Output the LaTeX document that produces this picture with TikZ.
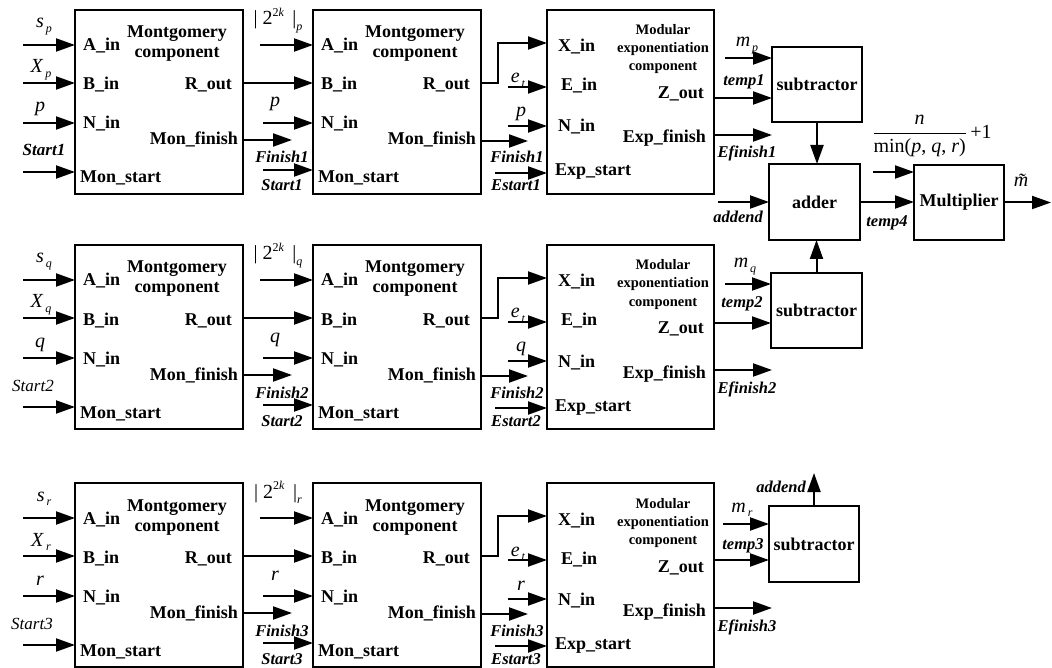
\documentclass[tikz,border=0pt]{standalone}
\usepackage{fontspec}
\setmainfont{Liberation Serif}
\usetikzlibrary{arrows.meta,calc}
\newcommand\isub[2]{\textit{#1}\raisebox{-0.45ex}{\fontsize{12}{12}\selectfont\,\textit{#2}}}
\newcommand\twok[1]{|\ 2\raisebox{0.9ex}{\fontsize{12}{12}\selectfont 2\textit{k}}\ \,|\raisebox{-0.6ex}{\fontsize{12}{12}\selectfont\textit{#1}}}
\newcommand\montbox[2]{%
  \node[box,minimum width=168pt,minimum height=184pt] (#1) at (#2,10) {};
  \begin{scope}[shift={(#2,0)}]
  \node[port,anchor=base west] (#1-a) at (8,51) {A\_in};
  \node[port,anchor=base] (#1-t1) at (102,38) {Montgomery};
  \node[port,anchor=base] (#1-t2) at (102,58) {component};
  \node[port,anchor=base west] (#1-b) at (8,90) {B\_in};
  \node[port,anchor=base east] (#1-r) at (157,90) {R\_out};
  \node[port,anchor=base west] (#1-n) at (8,129) {N\_in};
  \node[port,anchor=base east] (#1-f) at (163,145) {Mon\_finish};
  \node[port,anchor=base west] (#1-s) at (5,183) {Mon\_start};
  \end{scope}}
\newcommand\expbox[2]{%
  \node[box,minimum width=167pt,minimum height=184pt] (#1) at (#2,10) {};
  \begin{scope}[shift={(#2,0)}]
  \node[port,anchor=base west] (#1-x) at (11,52) {X\_in};
  \node[port,anchor=base west] (#1-e) at (14,91) {E\_in};
  \node[port,anchor=base west] (#1-n) at (11,132) {N\_in};
  \node[port,anchor=base west] (#1-s) at (8,176) {Exp\_start};
  \node[small,anchor=base] (#1-t1) at (116,35) {Modular};
  \node[small,anchor=base] (#1-t2) at (116,53) {exponentiation};
  \node[small,anchor=base] (#1-t3) at (116,71) {component};
  \node[port,anchor=base east] (#1-z) at (157,99) {Z\_out};
  \node[port,anchor=base east] (#1-f) at (159,143) {Exp\_finish};
  \end{scope}}
\begin{document}
\begin{tikzpicture}[x=1pt,y=-1pt,
  box/.style={draw,line width=2.2pt,anchor=north west,inner sep=0pt,outer sep=0pt},
  arr/.style={line width=2pt,-{Triangle[length=19pt,width=13pt]}},
  port/.style={font=\bfseries\fontsize{18}{21}\selectfont,inner sep=0pt},
  small/.style={font=\bfseries\fontsize{14.5}{17}\selectfont,inner sep=0pt},
  sig/.style={font=\bfseries\itshape\fontsize{16.5}{18}\selectfont,inner sep=0pt},
  sigr/.style={font=\itshape\fontsize{17}{18}\selectfont,inner sep=0pt},
  var/.style={font=\fontsize{20}{22}\selectfont,inner sep=0pt},
]
\useasboundingbox (0,0) rectangle (1052,668);
\foreach \r/\dy/\l/\sx/\sf in {1/0/p/44/\bfseries,2/235/q/33/\mdseries,3/473/r/32/\mdseries}{
\begin{scope}[shift={(0,\dy)}]
  \montbox{MA\r}{75}
  \montbox{MB\r}{313}
  \expbox{EX\r}{547}
  % inputs of first Montgomery block
  \coordinate (ia\r) at (23,45);  \draw[arr] (ia\r) -- (ia\r -| MA\r.west);
  \coordinate (ib\r) at (23,83);  \draw[arr] (ib\r) -- (ib\r -| MA\r.west);
  \coordinate (in\r) at (23,123); \draw[arr] (in\r) -- (in\r -| MA\r.west);
  \coordinate (is\r) at (23,172); \draw[arr] (is\r) -- (is\r -| MA\r.west);
  \node[var,anchor=base] (las\r) at (44,28) {\isub{s}{\l}};
  \node[var,anchor=base] (lax\r) at (41,73) {\isub{X}{\l}};
  \node[var,anchor=base] (lan\r) at (40,112) {\textit{\l}};
  \node[sigr,anchor=base] (lst\r) at (\sx,156) {\sf Start\r};
  % second Montgomery block
  \draw[arr] ($(MA\r.north east)+(0,73)$) -- ($(MB\r.north west)+(0,73)$);
  \coordinate (ja\r) at (260,45);  \draw[arr] (ja\r) -- (ja\r -| MB\r.west);
  \coordinate (jn\r) at (263,123); \draw[arr] (jn\r) -- (jn\r -| MB\r.west);
  \coordinate (fo\r) at (292,140); \draw[arr] (fo\r -| MA\r.east) -- (fo\r);
  \coordinate (js\r) at (263,170); \draw[arr] (js\r) -- (js\r -| MB\r.west);
  \node[var,anchor=base] (lbk\r) at (278,25) {\twok{\l}};
  \node[var,anchor=base] (lbn\r) at (275,107) {\textit{\l}};
  \node[sig,anchor=base] (lbf\r) at (282,163) {Finish\r};
  \node[sig,anchor=base] (lbs\r) at (282,191) {Start\r};
  % exponentiation block
  \draw[arr] ($(MB\r.north east)+(0,73)$) -- ++(17,0) |- ($(EX\r.north west)+(0,33)$);
  \coordinate (ke\r) at (508,87);  \draw[arr] (ke\r) -- (ke\r -| EX\r.west);
  \coordinate (kn\r) at (508,126); \draw[arr] (kn\r) -- (kn\r -| EX\r.west);
  \coordinate (go\r) at (528,141); \draw[arr] (go\r -| MB\r.east) -- (go\r);
  \coordinate (ks\r) at (495,173); \draw[arr] (ks\r) -- (ks\r -| EX\r.west);
  \node[var,anchor=base] (lce\r) at (518,83) {\isub{e}{t}};
  \node[var,anchor=base] (lcn\r) at (521,117) {\textit{\l}};
  \node[sig,anchor=base] (lcf\r) at (517,163) {Finish\r};
  \node[sig,anchor=base] (lcs\r) at (516,191) {Estart\r};
  \coordinate (xo\r) at (772,135); \draw[arr] (xo\r -| EX\r.east) -- (xo\r);
  \node[sig,anchor=base] (lef\r) at (747,158) {Efinish\r};
\end{scope}}
% subtractors, adder, multiplier
\node[box,minimum width=90pt,minimum height=75pt,port] (S1) at (772,47) {subtractor};
\node[box,minimum width=91pt,minimum height=75pt,port] (S2) at (771,273) {subtractor};
\node[box,minimum width=90pt,minimum height=76pt,port] (S3) at (769,506) {subtractor};
\node[box,minimum width=91pt,minimum height=76pt,port] (AD) at (769,164) {adder};
\node[box,minimum width=90pt,minimum height=75pt,port] (MU) at (914,165) {Multiplier};
% row 1 outputs
\coordinate (m1) at (725,58);  \draw[arr] (m1) -- (m1 -| S1.west);
\coordinate (z1) at (740,98);  \draw[arr] (z1 -| EX1.east) -- (z1 -| S1.west);
\node[var,anchor=base] (lm1) at (747,47) {\isub{m}{p}};
\node[sig,anchor=base] (lt1) at (744,86) {temp1};
% row 2 outputs
\coordinate (m2) at (725,284); \draw[arr] (m2) -- (m2 -| S2.west);
\coordinate (z2) at (740,323); \draw[arr] (z2 -| EX2.east) -- (z2 -| S2.west);
\node[var,anchor=base] (lm2) at (745,268) {\isub{m}{q}};
\node[sig,anchor=base] (lt2) at (742,308) {temp2};
% row 3 outputs
\coordinate (m3) at (723,524); \draw[arr] (m3) -- (m3 -| S3.west);
\coordinate (z3) at (740,560); \draw[arr] (z3 -| EX3.east) -- (z3 -| S3.west);
\node[var,anchor=base] (lm3) at (742,512) {\isub{m}{r}};
\node[sig,anchor=base] (lt3) at (743,549) {temp3};
\coordinate (up) at (814,473); \draw[arr] (S3.north) -- (up);
\node[sig,anchor=base east] (lad3) at (806,492) {addend};
% adder and multiplier connections
\draw[arr] (S1.south) -- (S1.south |- AD.north);
\draw[arr] (S2.north) -- (S2.north |- AD.south);
\coordinate (ad) at (718,202); \draw[arr] (ad) -- (ad -| AD.west);
\node[sig,anchor=base] (lad) at (738,223) {addend};
\draw[arr] (AD.east) -- (AD.east -| MU.west);
\node[sig,anchor=base] (lt4) at (887,227) {temp4};
\coordinate (fr) at (873,172); \draw[arr] (fr) -- (fr -| MU.west);
\coordinate (out) at (1051,202); \draw[arr] (MU.east) -- (MU.east -| out);
\node[var,anchor=base] (lmt) at (1025,187) {\textit{\~{m}}};
\node[var] (frac) at (932,136) {$\displaystyle\frac{\mbox{\textit{n}}}{\mbox{min(\textit{p}, \textit{q}, \textit{r})}}\mbox{\,+1}$};
\end{tikzpicture}
\end{document}
